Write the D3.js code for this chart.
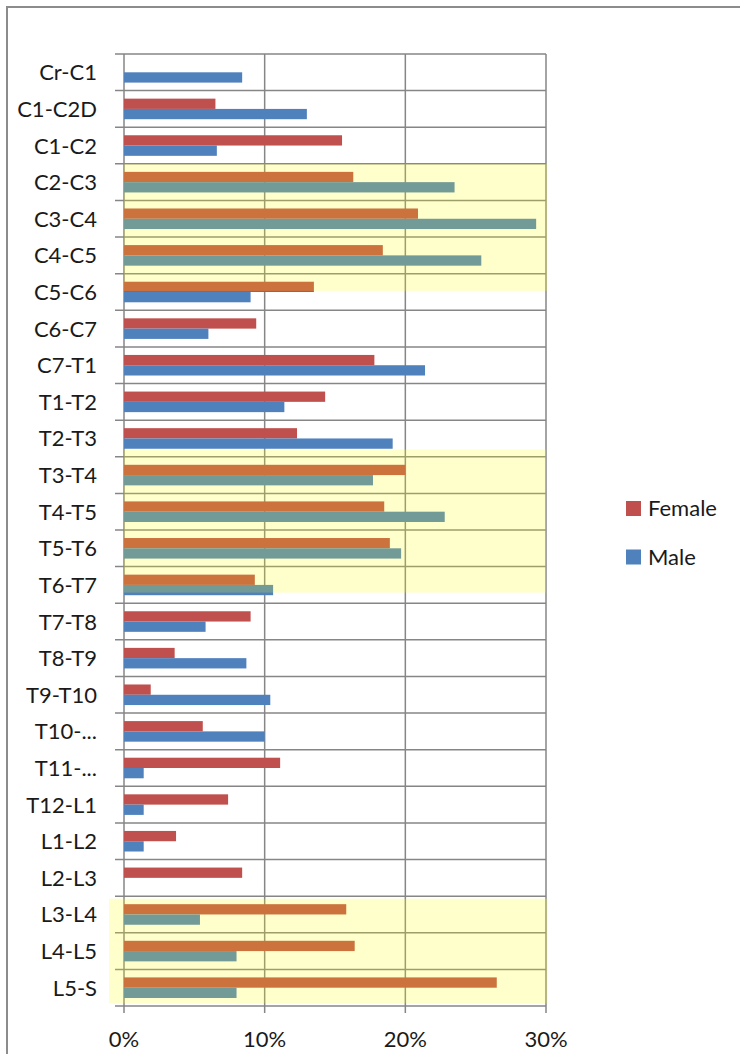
<!DOCTYPE html>
<html>
<head>
<meta charset="utf-8">
<script src="https://cdn.jsdelivr.net/npm/d3@7"></script>
<style>
  html, body { margin: 0; padding: 0; background: #fff; }
  svg { display: block; }
  text { font-family: Lato, "Open Sans", sans-serif; fill: #1a1a1a; }
</style>
</head>
<body>
<svg id="chart" width="740" height="1054"></svg>
<script>
// Spinal segments, top to bottom
const segments = [
  "Cr-C1", "C1-C2D", "C1-C2", "C2-C3", "C3-C4", "C4-C5", "C5-C6", "C6-C7",
  "C7-T1", "T1-T2", "T2-T3", "T3-T4", "T4-T5", "T5-T6", "T6-T7", "T7-T8",
  "T8-T9", "T9-T10", "T10-...", "T11-...", "T12-L1", "L1-L2", "L2-L3",
  "L3-L4", "L4-L5", "L5-S"
];

// Share of cases per segment (%)
const female = [
  0.0, 6.5, 15.5, 16.3, 20.9, 18.4, 13.5, 9.4,
  17.8, 14.3, 12.3, 20.0, 18.5, 18.9, 9.3, 9.0,
  3.6, 1.9, 5.6, 11.1, 7.4, 3.7, 8.4,
  15.8, 16.4, 26.5
];
const male = [
  8.4, 13.0, 6.6, 23.5, 29.3, 25.4, 9.0, 6.0,
  21.4, 11.4, 19.1, 17.7, 22.8, 19.7, 10.6, 5.8,
  8.7, 10.4, 10.0, 1.4, 1.4, 1.4, 0.0,
  5.4, 8.0, 8.0
];

const seriesNames = ["Female", "Male"];
const seriesColors = ["#C0504D", "#4F81BD"];
const xTicks = [0, 10, 20, 30];

// Highlighted segment ranges (first, last)
const highlights = [
  ["C2-C3", "C5-C6"],
  ["T3-T4", "T6-T7"],
  ["L3-L4", "L5-S"]
];

const svg = d3.select("#chart");
const plot = { left: 124, right: 546, top: 54, bottom: 1006 };
const gridColor = "#868686";

// Outer frame
svg.append("path")
  .attr("d", "M7,1060 V7 H750")
  .attr("fill", "none")
  .attr("stroke", "#8c8c8c")
  .attr("stroke-width", 2);

const x = d3.scaleLinear().domain([0, 30]).range([plot.left, plot.right]);
const y = d3.scaleBand().domain(segments).range([plot.top, plot.bottom]).padding(0);
const ySeries = d3.scaleBand().domain(seriesNames).range([0, y.bandwidth()])
  .paddingInner(0).paddingOuter(0.78);

// Horizontal gridlines at category boundaries (with left ticks)
const bounds = segments.map(s => y(s)).concat([plot.bottom]);
svg.append("g").selectAll("line").data(bounds).join("line")
  .attr("x1", plot.left - 9).attr("x2", plot.right)
  .attr("y1", d => d).attr("y2", d => d)
  .attr("stroke", gridColor).attr("stroke-width", 1.5);

// Vertical gridlines (with bottom ticks)
svg.append("g").selectAll("line").data(xTicks).join("line")
  .attr("x1", d => x(d)).attr("x2", d => x(d))
  .attr("y1", plot.top).attr("y2", plot.bottom + 7)
  .attr("stroke", gridColor).attr("stroke-width", 1.5);

// Bars
const rows = segments.map((s, i) => ({ seg: s, values: [female[i], male[i]] }));
const groups = svg.append("g").selectAll("g").data(rows).join("g")
  .attr("transform", d => `translate(0,${y(d.seg)})`);
groups.selectAll("rect")
  .data(d => d.values.map((v, j) => ({ name: seriesNames[j], v, color: seriesColors[j] })))
  .join("rect")
  .attr("x", x(0))
  .attr("y", d => ySeries(d.name))
  .attr("width", d => x(d.v) - x(0))
  .attr("height", ySeries.bandwidth())
  .attr("fill", d => d.color);

// Translucent yellow highlight boxes over the selected ranges
const boxGeom = [
  { top: 0.0, bottom: 0.47, x0: 0, x1: 1 },
  { top: -0.2, bottom: 0.71, x0: 0, x1: 0 },
  { top: 0.07, bottom: 0.93, x0: -15, x1: 2 }
];
svg.append("g").selectAll("rect").data(highlights).join("rect")
  .attr("x", (d, i) => plot.left + boxGeom[i].x0)
  .attr("y", (d, i) => y(d[0]) + boxGeom[i].top * y.bandwidth())
  .attr("width", (d, i) => plot.right - plot.left + boxGeom[i].x1 - boxGeom[i].x0)
  .attr("height", (d, i) => y(d[1]) + boxGeom[i].bottom * y.bandwidth() - (y(d[0]) + boxGeom[i].top * y.bandwidth()))
  .attr("fill", "#FFFF00")
  .attr("fill-opacity", 0.2);

// Category labels
svg.append("g").selectAll("text").data(segments).join("text")
  .attr("x", 97)
  .attr("y", d => y(d) + y.bandwidth() / 2 + 8)
  .attr("text-anchor", "end")
  .attr("font-size", 22)
  .text(d => d);

// X tick labels
svg.append("g").selectAll("text").data(xTicks).join("text")
  .attr("x", d => x(d))
  .attr("y", 1047)
  .attr("text-anchor", "middle")
  .attr("font-size", 22)
  .text(d => d + "%");

// Legend
const legend = svg.append("g").selectAll("g").data(seriesNames).join("g")
  .attr("transform", (d, i) => `translate(626,${501 + i * 48.5})`);
legend.append("rect")
  .attr("width", 15).attr("height", 15)
  .attr("fill", (d, i) => seriesColors[i]);
legend.append("text")
  .attr("x", 22).attr("y", 15)
  .attr("font-size", 22)
  .text(d => d);
</script>
</body>
</html>
